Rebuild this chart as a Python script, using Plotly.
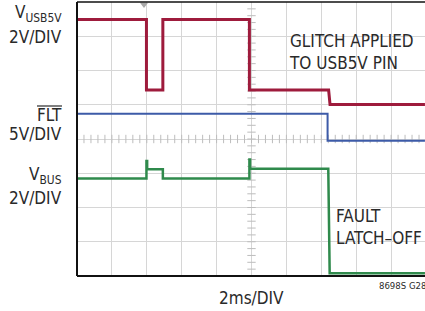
import plotly.graph_objects as go
import numpy as np

# ---- data (time in divisions, level in divisions) ----
t_usb = [0, 1.99, 1.99, 2.46, 2.46, 4.94, 4.94, 7.21, 7.25, 9.97]
v_usb = [7.49, 7.49, 5.43, 5.43, 7.49, 7.49, 5.43, 5.43, 5.01, 5.01]

t_flt = [0, 7.18, 7.18, 9.97]
v_flt = [4.74, 4.74, 3.95, 3.95]

t_bus = [0, 1.99, 1.99, 2.01, 2.01, 2.46, 2.46, 4.94, 4.94, 4.96, 4.96, 7.2, 7.24, 9.97]
v_bus = [2.85, 2.85, 3.36, 3.36, 3.12, 3.12, 2.85, 2.85, 3.40, 3.40, 3.13, 3.13, 0.08, 0.08]

W, H = 425, 311
L, T, B = 77, 2, 35
PW, PH = W - L, H - T - B
XMAX = PW / 34.9

def px(x):
    return (x - L) / PW

def py(y):
    return (H - B - y) / PH

FONT = "DejaVu Sans Condensed, Liberation Sans Narrow, Arial Narrow, sans-serif"
TC = "#2a2a2a"

fig = go.Figure()

# minor ticks on the centre lines
tk = np.arange(0, 10.0, 0.2)
fig.add_trace(go.Scatter(x=tk, y=[4] * len(tk), mode="markers", hoverinfo="skip",
                         marker=dict(symbol="line-ns", size=6, line=dict(width=1, color="#bdbdbd"))))
tky = np.arange(0, 8.0, 0.2)
fig.add_trace(go.Scatter(x=[5] * len(tky), y=tky, mode="markers", hoverinfo="skip",
                         marker=dict(symbol="line-ew", size=6, line=dict(width=1, color="#bdbdbd"))))

fig.add_trace(go.Scatter(x=t_usb, y=v_usb, mode="lines", line=dict(color="#9E1B3C", width=3)))
fig.add_trace(go.Scatter(x=t_flt, y=v_flt, mode="lines", line=dict(color="#3D5BA8", width=2)))
fig.add_trace(go.Scatter(x=t_bus, y=v_bus, mode="lines", line=dict(color="#2F8A4C", width=2.5)))

# trigger marker
fig.add_trace(go.Scatter(x=[1.92], y=[7.93], mode="markers", cliponaxis=False, hoverinfo="skip",
                         marker=dict(symbol="triangle-down", size=7, color="#a8a8a8")))

fig.update_layout(
    width=W, height=H, margin=dict(l=L, r=0, t=T, b=B),
    plot_bgcolor="white", paper_bgcolor="white", showlegend=False,
    xaxis=dict(range=[0, XMAX], dtick=1, showgrid=True, gridcolor="#d6d6d6", gridwidth=1,
               showticklabels=False, zeroline=False, ticks=""),
    yaxis=dict(range=[0, 8], dtick=1, showgrid=True, gridcolor="#d6d6d6", gridwidth=1,
               showticklabels=False, zeroline=False, ticks=""),
    font=dict(family=FONT, color=TC),
)

# frame: left, bottom, top
for x0, y0, x1, y1, w in [(0, 0, 0, 1, 2), (0, 0, 1, 0, 2), (0, 1, 1, 1, 1.5)]:
    fig.add_shape(type="line", xref="paper", yref="paper", x0=x0, y0=y0, x1=x1, y1=y1,
                  line=dict(color="#111", width=w))

# FLT overline
fig.add_shape(type="line", xref="paper", yref="paper", x0=px(37), x1=px(62), y0=py(106), y1=py(106),
              line=dict(color=TC, width=1.2))

def ann(text, x, y, xanchor="right", size=17, align="right", yanchor="middle"):
    fig.add_annotation(text=text, x=px(x), y=py(y), xref="paper", yref="paper", showarrow=False,
                       xanchor=xanchor, yanchor=yanchor, align=align,
                       font=dict(family=FONT, size=size, color=TC))

ann("V<sub>USB5V</sub>", 64, 14)
ann("2V/DIV", 64, 37)
ann("FLT", 64, 115)
ann("5V/DIV", 64, 134)
ann("V<sub>BUS</sub>", 64, 175)
ann("2V/DIV", 64, 198)
ann("GLITCH APPLIED<br>TO USB5V PIN", 287, 52, xanchor="left", size=17, align="left")
ann("FAULT<br>LATCH–OFF", 334, 227, xanchor="left", size=17, align="left")
ann("2ms/DIV", 251, 298, xanchor="center", size=17)
ann("8698S G28", 377, 285, xanchor="left", size=9.5, align="left")

fig.write_html("out.html", config={"displayModeBar": False})

# remove the default page margin so the figure sits at the window's corner
with open("out.html", "r", encoding="utf-8") as f:
    html = f.read()
html = html.replace("<head>", "<head><style>html,body{margin:0;padding:0;overflow:hidden}</style>", 1)
with open("out.html", "w", encoding="utf-8") as f:
    f.write(html)
